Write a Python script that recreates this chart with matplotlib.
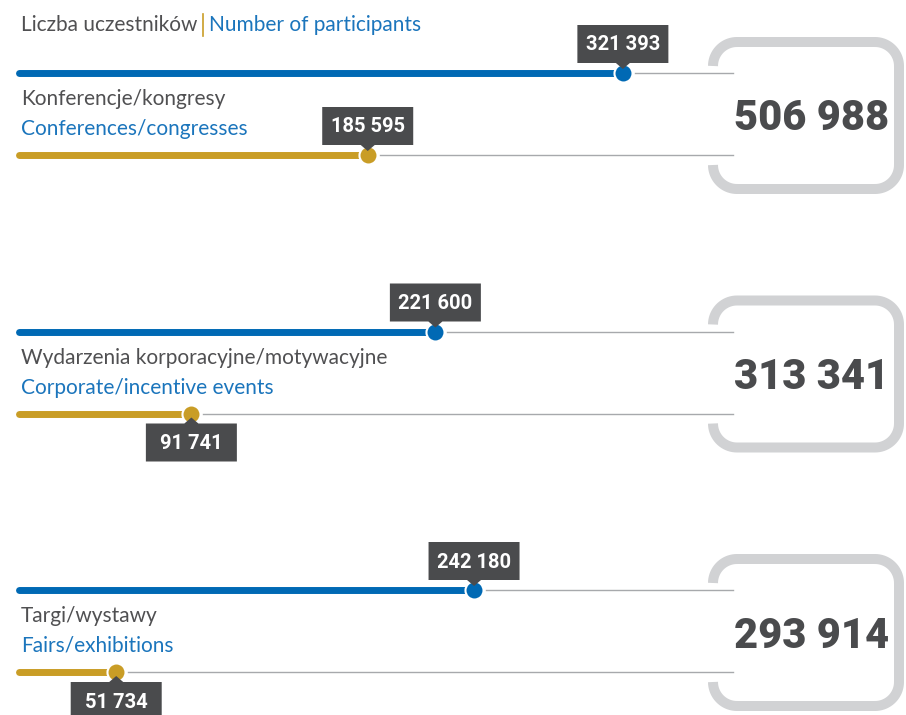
import numpy as np
import matplotlib
matplotlib.use("Agg")
import matplotlib.pyplot as plt
from matplotlib.patches import Polygon
from matplotlib.path import Path
from matplotlib.patches import PathPatch

plt.rcParams['font.family'] = ['Lato', 'DejaVu Sans']
BOLD_FONT = ['Roboto', 'DejaVu Sans']

# data
labels_pl = ["Konferencje/kongresy", "Wydarzenia korporacyjne/motywacyjne", "Targi/wystawy"]
labels_en = ["Conferences/congresses", "Corporate/incentive events", "Fairs/exhibitions"]
blue_vals = [321393, 221600, 242180]
gold_vals = [185595, 91741, 51734]
totals = [b + g for b, g in zip(blue_vals, gold_vals)]
title_pl = "Liczba uczestników"
title_en = "Number of participants"
XMAX = 380000

# colours
BLUE = "#0069b4"
BLUE_TXT = "#1b75bc"
GOLD = "#c99d26"
DARK = "#4a4b4d"
GREY_TXT = "#505052"
LINE = "#a7a9ac"
FRAME = "#d1d2d4"

W, H = 906, 715
fig = plt.figure(figsize=(W / 100, H / 100), dpi=100)
ax = fig.add_axes([0, 0, 1, 1])
ax.axis('off')

# x axis in participant values, y axis in pixels (top down)
X_LEFT, X_RIGHT = 19, 733
def v(p):  # pixel -> value
    return (p - X_LEFT) * XMAX / (X_RIGHT - X_LEFT)

ax.set_xlim(v(0), v(W))
ax.set_ylim(H, 0)

def fmt(n):
    return f"{n:,}".replace(",", " ")

def tooltip(x, y, text, below):
    bw, bh, gap, tri = 91, 38, 10, 7
    cx = X_LEFT + x * (X_RIGHT - X_LEFT) / XMAX
    if below:
        top, bot = y + gap, y + gap + bh
        pts = [(cx - bw / 2, top), (cx - tri, top), (cx, top - 6), (cx + tri, top),
               (cx + bw / 2, top), (cx + bw / 2, bot), (cx - bw / 2, bot)]
    else:
        top, bot = y - gap - bh, y - gap
        pts = [(cx - bw / 2, top), (cx + bw / 2, top), (cx + bw / 2, bot), (cx + tri, bot),
               (cx, bot + 6), (cx - tri, bot), (cx - bw / 2, bot)]
    pts = [(v(px), py) for px, py in pts]
    ax.add_patch(Polygon(pts, closed=True, fc=DARK, ec='none', zorder=5))
    ax.text(x, (top + bot) / 2 + 1, text, color='white', fontsize=14.5, fontweight='bold',
            family=BOLD_FONT, ha='center', va='center', zorder=6)

def frame(top, bot, left=713, right=899, r=24):
    pts = []
    def arc(cx, cy, a0, a1):
        t = np.linspace(np.radians(a0), np.radians(a1), 20)
        return [(cx + r * np.cos(t_), cy - r * np.sin(t_)) for t_ in t]
    pts += arc(left + r, top + r, 180, 90)
    pts += arc(right - r, top + r, 90, 0)
    pts += arc(right - r, bot - r, 0, -90)
    pts += arc(left + r, bot - r, -90, -180)
    pts = [(v(px), py) for px, py in pts]
    ax.add_patch(PathPatch(Path(pts), fill=False, ec=FRAME, lw=7.2, capstyle='butt', zorder=1))

# title
renderer = fig.canvas.get_renderer()
t1 = ax.text(v(21), 25, title_pl, color=GREY_TXT, fontsize=15, va='center')
bb = t1.get_window_extent(renderer)
xs = bb.x1 + 6
ax.plot([v(xs), v(xs)], [14, 36], color=GOLD, lw=1.2)
ax.text(v(xs + 6), 25, title_en, color=BLUE_TXT, fontsize=15, va='center')

gold_below = [False, True, True]
for i in range(len(blue_vals)):
    yb = 73 + i * 258.5
    yg = yb + 82
    frame(yb - 31, yb + 116)
    for val, y, col in [(blue_vals[i], yb, BLUE), (gold_vals[i], yg, GOLD)]:
        ax.plot([0, val], [y, y], color=col, lw=5, solid_capstyle='round', zorder=2)
        ax.plot([val + v(30) - v(18), XMAX], [y, y], color=LINE, lw=1, zorder=2)
        ax.plot([val], [y], 'o', ms=13, mfc=col, mec='white', mew=1.5, zorder=3)
    tooltip(blue_vals[i], yb, fmt(blue_vals[i]), False)
    tooltip(gold_vals[i], yg, fmt(gold_vals[i]), gold_below[i])
    ax.text(v(21), yb + 26, labels_pl[i], color=GREY_TXT, fontsize=15, va='center')
    ax.text(v(21), yb + 56, labels_en[i], color=BLUE_TXT, fontsize=15, va='center')
    ax.text(v(889), yb + 46, fmt(totals[i]), color=DARK, fontsize=30, fontweight='heavy',
            family=BOLD_FONT, ha='right', va='center')

fig.savefig("out.png", dpi=100)
